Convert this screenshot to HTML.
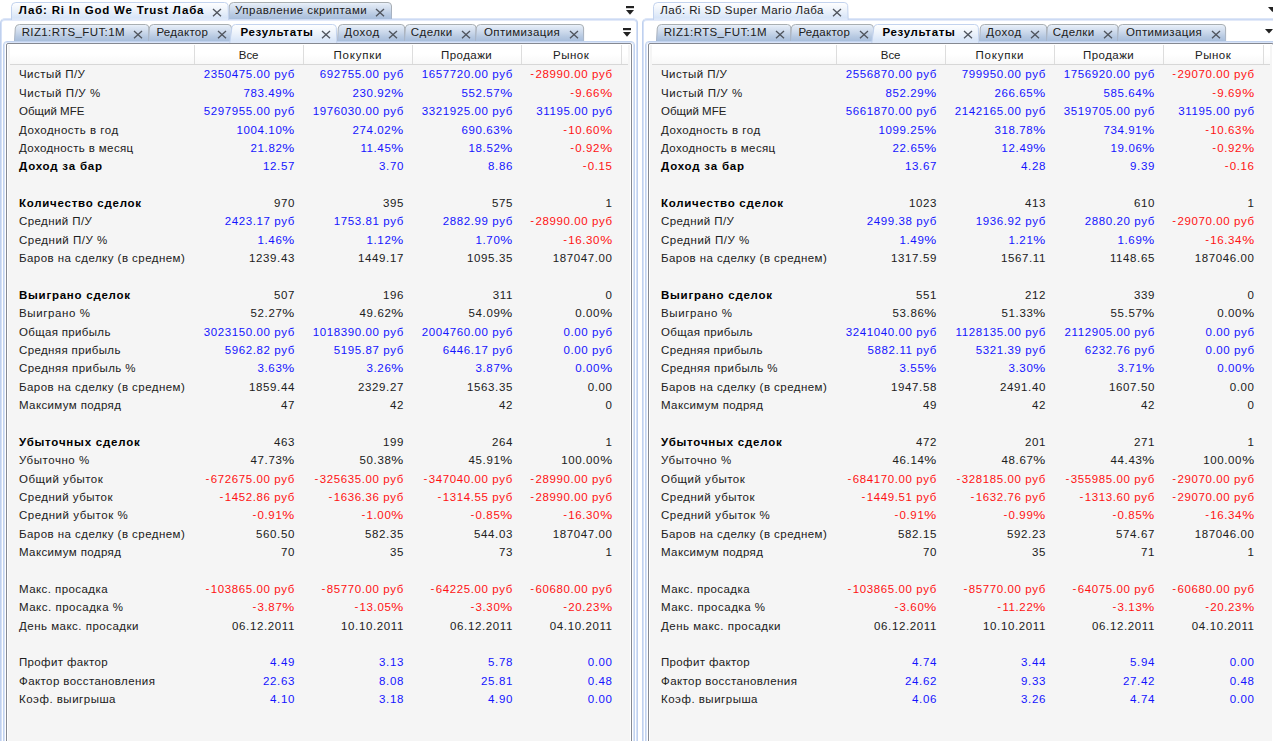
<!DOCTYPE html><html><head><meta charset="utf-8"><title>Lab</title><style>
html,body{margin:0;padding:0}
body{width:1273px;height:741px;overflow:hidden;background:#fff;position:relative;font-family:"Liberation Sans",sans-serif;font-size:11.5px;color:#000}
.panel{position:absolute;top:0;width:638px;height:741px;overflow:visible}
.panel *{position:absolute;box-sizing:border-box}
.oframe{left:0;top:18px;width:638px;height:760px;border:1px solid #bfd0ee;border-top-color:#dde6f7;box-shadow:inset 0 1px 0 0 #ccdaf4,inset 1px 0 0 0 #d5e1f7,inset -1px 0 0 0 #d5e1f7,inset 0 2px 0 0 #e3eaf9;border-radius:5px;background:#fff}
.iframe{left:3px;top:41px;width:632px;height:760px;border:1px solid #c2d3ef;box-shadow:inset 0 0 0 1px #d9e4f8;border-radius:4px;background:#fff}
.dframe{left:6px;top:43px;width:626px;height:760px;border:1px solid #858992;border-radius:2px;background:#fff}
.tab{display:block;overflow:visible}
.tab.act{z-index:2}
.tt,.x{z-index:3}
.tt{white-space:pre;line-height:16px;height:16px}
.bd{font-weight:bold}
.x,.mi{display:block}
.body{left:8px;top:45px;width:622px;height:720px;background:#f5f5f5}
.hdr{left:10px;top:45px;width:618px;height:20px;background:linear-gradient(#ffffff 0%,#ffffff 45%,#f8f8f8 100%);border-bottom:1px solid #d7d7d7}
.hsep{top:45px;width:1px;height:19px;background:#dddddd}
.ht{top:47px;height:16px;line-height:16px;white-space:pre}
.lb{left:19.0px;height:18px;line-height:18px;white-space:pre}
.v{height:18px;line-height:18px;white-space:pre;letter-spacing:0.61px;text-align:right}
.v i{position:static;display:inline-block;font-style:normal;margin-left:1.7px;transform:scaleX(1.17);transform-origin:100% 50%}
.v u{position:relative;top:-1px;text-decoration:none;letter-spacing:1.3px}
.b{color:#1414ff}.r{color:#ff1212}.k{color:#202020}
.lb,.ht,.tt{color:#202020}
.bd{color:#000}
</style></head><body><svg width="0" height="0" style="position:absolute"><defs><linearGradient id="gi" x1="0" y1="0" x2="0" y2="1"><stop offset="0" stop-color="#eef4fc"/><stop offset="0.15" stop-color="#dfe8f4"/><stop offset="0.45" stop-color="#ccd9eb"/><stop offset="0.75" stop-color="#b6c8e1"/><stop offset="1" stop-color="#a9bfdc"/></linearGradient><linearGradient id="ga" x1="0" y1="0" x2="0" y2="1"><stop offset="0" stop-color="#ffffff"/><stop offset="0.45" stop-color="#edf3fb"/><stop offset="0.85" stop-color="#d9e6f8"/><stop offset="1" stop-color="#dfe9fa"/></linearGradient><linearGradient id="gs" x1="0" y1="0" x2="0" y2="1"><stop offset="0" stop-color="#a8aeb1"/><stop offset="0.35" stop-color="#a6adb6"/><stop offset="1" stop-color="#a9b7cc"/></linearGradient></defs></svg><div class="panel" style="left:0px"><div class="oframe"></div><svg class="tab act" style="left:8px;top:2px" width="223" height="18" viewBox="0 0 223 18"><path d="M3.5,18 L3.5,4.5 Q3.7,0.5 7.8,0.5 L216.5,0.5 Q219.7,0.5 220.1,3.5 L220.6,18" fill="url(#ga)" stroke="#c3d3ee" stroke-width="1"/></svg><span class="tt bd" style="left:18.8px;top:1.5px;letter-spacing:0.804px">Лаб: Ri In God We Trust Лаба</span><svg class="x" style="left:212.0px;top:7.65px" width="10" height="10" viewBox="0 0 10 10"><path d="M1 1 L9 8.2 M9 1 L1 8.2" stroke="#50555e" stroke-width="1.35" fill="none"/></svg><svg class="tab" style="left:225px;top:2px" width="169" height="17" viewBox="0 0 169 17"><path d="M3.5,17 L4.3,4 Q4.8,0.5 8.5,0.5 L163,0.5 Q166.4,0.5 166.5,4 L166.5,17" fill="url(#gi)" stroke="url(#gs)" stroke-width="1"/></svg><span class="tt" style="left:235.1px;top:1.5px;letter-spacing:0.462px">Управление скриптами</span><svg class="x" style="left:375.0px;top:7.65px" width="10" height="10" viewBox="0 0 10 10"><path d="M1 1 L9 8.2 M9 1 L1 8.2" stroke="#50555e" stroke-width="1.35" fill="none"/></svg><div class="iframe"></div><div class="dframe"></div><svg class="tab" style="left:11px;top:24px" width="140.4" height="17" viewBox="0 0 140.4 17"><path d="M3.5,17 L4.3,4 Q4.8,0.5 8.5,0.5 L134.4,0.5 Q137.8,0.5 137.9,4 L137.9,17" fill="url(#gi)" stroke="url(#gs)" stroke-width="1"/></svg><span class="tt" style="left:21.7px;top:24px;letter-spacing:0.374px">RIZ1:RTS_FUT:1M</span><svg class="x" style="left:132.9px;top:29.65px" width="10" height="10" viewBox="0 0 10 10"><path d="M1 1 L9 8.2 M9 1 L1 8.2" stroke="#50555e" stroke-width="1.35" fill="none"/></svg><svg class="tab" style="left:145.4px;top:24px" width="89.0" height="17" viewBox="0 0 89.0 17"><path d="M3.5,17 L4.3,4 Q4.8,0.5 8.5,0.5 L83.0,0.5 Q86.4,0.5 86.5,4 L86.5,17" fill="url(#gi)" stroke="url(#gs)" stroke-width="1"/></svg><span class="tt" style="left:156.4px;top:24px;letter-spacing:0.283px">Редактор</span><svg class="x" style="left:216.6px;top:29.65px" width="10" height="10" viewBox="0 0 10 10"><path d="M1 1 L9 8.2 M9 1 L1 8.2" stroke="#50555e" stroke-width="1.35" fill="none"/></svg><svg class="tab act" style="left:228.4px;top:24px" width="111.2" height="19" viewBox="0 0 111.2 19"><path d="M1.8,19 L3.9,3.5 Q4.4,0.5 7.5,0.5 L104.7,0.5 Q107.9,0.5 108.3,3.5 L108.8,19" fill="url(#ga)" stroke="#c3d3ee" stroke-width="1"/></svg><span class="tt bd" style="left:240.4px;top:24px;letter-spacing:0.687px">Результаты</span><svg class="x" style="left:321.4px;top:29.65px" width="10" height="10" viewBox="0 0 10 10"><path d="M1 1 L9 8.2 M9 1 L1 8.2" stroke="#50555e" stroke-width="1.35" fill="none"/></svg><svg class="tab" style="left:333.6px;top:24px" width="73.2" height="17" viewBox="0 0 73.2 17"><path d="M3.5,17 L4.3,4 Q4.8,0.5 8.5,0.5 L67.2,0.5 Q70.60000000000001,0.5 70.7,4 L70.7,17" fill="url(#gi)" stroke="url(#gs)" stroke-width="1"/></svg><span class="tt" style="left:344.2px;top:24px;letter-spacing:0.582px">Доход</span><svg class="x" style="left:388.0px;top:29.65px" width="10" height="10" viewBox="0 0 10 10"><path d="M1 1 L9 8.2 M9 1 L1 8.2" stroke="#50555e" stroke-width="1.35" fill="none"/></svg><svg class="tab" style="left:400.8px;top:24px" width="77.6" height="17" viewBox="0 0 77.6 17"><path d="M3.5,17 L4.3,4 Q4.8,0.5 8.5,0.5 L71.6,0.5 Q75.0,0.5 75.1,4 L75.1,17" fill="url(#gi)" stroke="url(#gs)" stroke-width="1"/></svg><span class="tt" style="left:410.8px;top:24px;letter-spacing:0.459px">Сделки</span><svg class="x" style="left:460.9px;top:29.65px" width="10" height="10" viewBox="0 0 10 10"><path d="M1 1 L9 8.2 M9 1 L1 8.2" stroke="#50555e" stroke-width="1.35" fill="none"/></svg><svg class="tab" style="left:472.4px;top:24px" width="114.1" height="17" viewBox="0 0 114.1 17"><path d="M3.5,17 L4.3,4 Q4.8,0.5 8.5,0.5 L108.1,0.5 Q111.5,0.5 111.6,4 L111.6,17" fill="url(#gi)" stroke="url(#gs)" stroke-width="1"/></svg><span class="tt" style="left:484.0px;top:24px;letter-spacing:0.359px">Оптимизация</span><svg class="x" style="left:568.5px;top:29.65px" width="10" height="10" viewBox="0 0 10 10"><path d="M1 1 L9 8.2 M9 1 L1 8.2" stroke="#50555e" stroke-width="1.35" fill="none"/></svg><svg class="mi" style="left:626px;top:6px" width="8" height="9" viewBox="0 0 8 9"><rect x="0" y="0" width="8" height="2.2" fill="#222"/><path d="M0 4 H8 L4 8.7 Z" fill="#222"/></svg><svg class="mi" style="left:623px;top:28px" width="8" height="9" viewBox="0 0 8 9"><rect x="0" y="0" width="8" height="2.2" fill="#222"/><path d="M0 4 H8 L4 8.7 Z" fill="#222"/></svg><div class="body"></div><div class="hdr"></div><div class="hsep" style="left:194px"></div><div class="hsep" style="left:303px"></div><div class="hsep" style="left:412px"></div><div class="hsep" style="left:521px"></div><div class="hsep" style="left:621px"></div><span class="ht" style="left:238.8px;letter-spacing:-0.064px">Все</span><span class="ht" style="left:333.6px;letter-spacing:0.756px">Покупки</span><span class="ht" style="left:441.0px;letter-spacing:0.445px">Продажи</span><span class="ht" style="left:553.1px;letter-spacing:0.47px">Рынок</span><span class="lb" style="top:65.44px;letter-spacing:0.459px">Чистый П/У</span><span class="v b" style="top:65.44px;right:343.09px">2350475.00 руб</span><span class="v b" style="top:65.44px;right:234.09px">692755.00 руб</span><span class="v b" style="top:65.44px;right:125.09px">1657720.00 руб</span><span class="v r" style="top:65.44px;right:25.39px"><u>-</u>28990.00 руб</span><span class="lb" style="top:83.81px;letter-spacing:0.547px">Чистый П/У %</span><span class="v b" style="top:83.81px;right:343.09px">783.49<i>%</i></span><span class="v b" style="top:83.81px;right:234.09px">230.92<i>%</i></span><span class="v b" style="top:83.81px;right:125.09px">552.57<i>%</i></span><span class="v r" style="top:83.81px;right:25.39px"><u>-</u>9.66<i>%</i></span><span class="lb" style="top:102.19px;letter-spacing:0.011px">Общий MFE</span><span class="v b" style="top:102.19px;right:343.09px">5297955.00 руб</span><span class="v b" style="top:102.19px;right:234.09px">1976030.00 руб</span><span class="v b" style="top:102.19px;right:125.09px">3321925.00 руб</span><span class="v b" style="top:102.19px;right:25.39px">31195.00 руб</span><span class="lb" style="top:120.56px;letter-spacing:0.492px">Доходность в год</span><span class="v b" style="top:120.56px;right:343.09px">1004.10<i>%</i></span><span class="v b" style="top:120.56px;right:234.09px">274.02<i>%</i></span><span class="v b" style="top:120.56px;right:125.09px">690.63<i>%</i></span><span class="v r" style="top:120.56px;right:25.39px"><u>-</u>10.60<i>%</i></span><span class="lb" style="top:138.94px;letter-spacing:0.378px">Доходность в месяц</span><span class="v b" style="top:138.94px;right:343.09px">21.82<i>%</i></span><span class="v b" style="top:138.94px;right:234.09px">11.45<i>%</i></span><span class="v b" style="top:138.94px;right:125.09px">18.52<i>%</i></span><span class="v r" style="top:138.94px;right:25.39px"><u>-</u>0.92<i>%</i></span><span class="lb bd" style="top:157.31px;letter-spacing:0.797px">Доход за бар</span><span class="v b" style="top:157.31px;right:343.09px">12.57</span><span class="v b" style="top:157.31px;right:234.09px">3.70</span><span class="v b" style="top:157.31px;right:125.09px">8.86</span><span class="v r" style="top:157.31px;right:25.39px"><u>-</u>0.15</span><span class="lb bd" style="top:194.06px;letter-spacing:0.741px">Количество сделок</span><span class="v k" style="top:194.06px;right:343.09px">970</span><span class="v k" style="top:194.06px;right:234.09px">395</span><span class="v k" style="top:194.06px;right:125.09px">575</span><span class="v k" style="top:194.06px;right:25.39px">1</span><span class="lb" style="top:212.44px;letter-spacing:0.408px">Средний П/У</span><span class="v b" style="top:212.44px;right:343.09px">2423.17 руб</span><span class="v b" style="top:212.44px;right:234.09px">1753.81 руб</span><span class="v b" style="top:212.44px;right:125.09px">2882.99 руб</span><span class="v r" style="top:212.44px;right:25.39px"><u>-</u>28990.00 руб</span><span class="lb" style="top:230.81px;letter-spacing:0.505px">Средний П/У %</span><span class="v b" style="top:230.81px;right:343.09px">1.46<i>%</i></span><span class="v b" style="top:230.81px;right:234.09px">1.12<i>%</i></span><span class="v b" style="top:230.81px;right:125.09px">1.70<i>%</i></span><span class="v r" style="top:230.81px;right:25.39px"><u>-</u>16.30<i>%</i></span><span class="lb" style="top:249.19px;letter-spacing:0.458px">Баров на сделку (в среднем)</span><span class="v k" style="top:249.19px;right:343.09px">1239.43</span><span class="v k" style="top:249.19px;right:234.09px">1449.17</span><span class="v k" style="top:249.19px;right:125.09px">1095.35</span><span class="v k" style="top:249.19px;right:25.39px">187047.00</span><span class="lb bd" style="top:285.94px;letter-spacing:0.742px">Выиграно сделок</span><span class="v k" style="top:285.94px;right:343.09px">507</span><span class="v k" style="top:285.94px;right:234.09px">196</span><span class="v k" style="top:285.94px;right:125.09px">311</span><span class="v k" style="top:285.94px;right:25.39px">0</span><span class="lb" style="top:304.31px;letter-spacing:0.609px">Выиграно %</span><span class="v k" style="top:304.31px;right:343.09px">52.27<i>%</i></span><span class="v k" style="top:304.31px;right:234.09px">49.62<i>%</i></span><span class="v k" style="top:304.31px;right:125.09px">54.09<i>%</i></span><span class="v k" style="top:304.31px;right:25.39px">0.00<i>%</i></span><span class="lb" style="top:322.69px;letter-spacing:0.332px">Общая прибыль</span><span class="v b" style="top:322.69px;right:343.09px">3023150.00 руб</span><span class="v b" style="top:322.69px;right:234.09px">1018390.00 руб</span><span class="v b" style="top:322.69px;right:125.09px">2004760.00 руб</span><span class="v b" style="top:322.69px;right:25.39px">0.00 руб</span><span class="lb" style="top:341.06px;letter-spacing:0.375px">Средняя прибыль</span><span class="v b" style="top:341.06px;right:343.09px">5962.82 руб</span><span class="v b" style="top:341.06px;right:234.09px">5195.87 руб</span><span class="v b" style="top:341.06px;right:125.09px">6446.17 руб</span><span class="v b" style="top:341.06px;right:25.39px">0.00 руб</span><span class="lb" style="top:359.44px;letter-spacing:0.439px">Средняя прибыль %</span><span class="v b" style="top:359.44px;right:343.09px">3.63<i>%</i></span><span class="v b" style="top:359.44px;right:234.09px">3.26<i>%</i></span><span class="v b" style="top:359.44px;right:125.09px">3.87<i>%</i></span><span class="v b" style="top:359.44px;right:25.39px">0.00<i>%</i></span><span class="lb" style="top:377.81px;letter-spacing:0.458px">Баров на сделку (в среднем)</span><span class="v k" style="top:377.81px;right:343.09px">1859.44</span><span class="v k" style="top:377.81px;right:234.09px">2329.27</span><span class="v k" style="top:377.81px;right:125.09px">1563.35</span><span class="v k" style="top:377.81px;right:25.39px">0.00</span><span class="lb" style="top:396.19px;letter-spacing:0.387px">Максимум подряд</span><span class="v k" style="top:396.19px;right:343.09px">47</span><span class="v k" style="top:396.19px;right:234.09px">42</span><span class="v k" style="top:396.19px;right:125.09px">42</span><span class="v k" style="top:396.19px;right:25.39px">0</span><span class="lb bd" style="top:432.94px;letter-spacing:0.775px">Убыточных сделок</span><span class="v k" style="top:432.94px;right:343.09px">463</span><span class="v k" style="top:432.94px;right:234.09px">199</span><span class="v k" style="top:432.94px;right:125.09px">264</span><span class="v k" style="top:432.94px;right:25.39px">1</span><span class="lb" style="top:451.31px;letter-spacing:0.549px">Убыточно %</span><span class="v k" style="top:451.31px;right:343.09px">47.73<i>%</i></span><span class="v k" style="top:451.31px;right:234.09px">50.38<i>%</i></span><span class="v k" style="top:451.31px;right:125.09px">45.91<i>%</i></span><span class="v k" style="top:451.31px;right:25.39px">100.00<i>%</i></span><span class="lb" style="top:469.69px;letter-spacing:0.496px">Общий убыток</span><span class="v r" style="top:469.69px;right:343.09px"><u>-</u>672675.00 руб</span><span class="v r" style="top:469.69px;right:234.09px"><u>-</u>325635.00 руб</span><span class="v r" style="top:469.69px;right:125.09px"><u>-</u>347040.00 руб</span><span class="v r" style="top:469.69px;right:25.39px"><u>-</u>28990.00 руб</span><span class="lb" style="top:488.06px;letter-spacing:0.481px">Средний убыток</span><span class="v r" style="top:488.06px;right:343.09px"><u>-</u>1452.86 руб</span><span class="v r" style="top:488.06px;right:234.09px"><u>-</u>1636.36 руб</span><span class="v r" style="top:488.06px;right:125.09px"><u>-</u>1314.55 руб</span><span class="v r" style="top:488.06px;right:25.39px"><u>-</u>28990.00 руб</span><span class="lb" style="top:506.44px;letter-spacing:0.535px">Средний убыток %</span><span class="v r" style="top:506.44px;right:343.09px"><u>-</u>0.91<i>%</i></span><span class="v r" style="top:506.44px;right:234.09px"><u>-</u>1.00<i>%</i></span><span class="v r" style="top:506.44px;right:125.09px"><u>-</u>0.85<i>%</i></span><span class="v r" style="top:506.44px;right:25.39px"><u>-</u>16.30<i>%</i></span><span class="lb" style="top:524.82px;letter-spacing:0.458px">Баров на сделку (в среднем)</span><span class="v k" style="top:524.82px;right:343.09px">560.50</span><span class="v k" style="top:524.82px;right:234.09px">582.35</span><span class="v k" style="top:524.82px;right:125.09px">544.03</span><span class="v k" style="top:524.82px;right:25.39px">187047.00</span><span class="lb" style="top:543.19px;letter-spacing:0.387px">Максимум подряд</span><span class="v k" style="top:543.19px;right:343.09px">70</span><span class="v k" style="top:543.19px;right:234.09px">35</span><span class="v k" style="top:543.19px;right:125.09px">73</span><span class="v k" style="top:543.19px;right:25.39px">1</span><span class="lb" style="top:579.94px;letter-spacing:0.433px">Макс. просадка</span><span class="v r" style="top:579.94px;right:343.09px"><u>-</u>103865.00 руб</span><span class="v r" style="top:579.94px;right:234.09px"><u>-</u>85770.00 руб</span><span class="v r" style="top:579.94px;right:125.09px"><u>-</u>64225.00 руб</span><span class="v r" style="top:579.94px;right:25.39px"><u>-</u>60680.00 руб</span><span class="lb" style="top:598.32px;letter-spacing:0.507px">Макс. просадка %</span><span class="v r" style="top:598.32px;right:343.09px"><u>-</u>3.87<i>%</i></span><span class="v r" style="top:598.32px;right:234.09px"><u>-</u>13.05<i>%</i></span><span class="v r" style="top:598.32px;right:125.09px"><u>-</u>3.30<i>%</i></span><span class="v r" style="top:598.32px;right:25.39px"><u>-</u>20.23<i>%</i></span><span class="lb" style="top:616.69px;letter-spacing:0.486px">День макс. просадки</span><span class="v k" style="top:616.69px;right:343.09px">06.12.2011</span><span class="v k" style="top:616.69px;right:234.09px">10.10.2011</span><span class="v k" style="top:616.69px;right:125.09px">06.12.2011</span><span class="v k" style="top:616.69px;right:25.39px">04.10.2011</span><span class="lb" style="top:653.44px;letter-spacing:0.353px">Профит фактор</span><span class="v b" style="top:653.44px;right:343.09px">4.49</span><span class="v b" style="top:653.44px;right:234.09px">3.13</span><span class="v b" style="top:653.44px;right:125.09px">5.78</span><span class="v b" style="top:653.44px;right:25.39px">0.00</span><span class="lb" style="top:671.82px;letter-spacing:0.418px">Фактор восстановления</span><span class="v b" style="top:671.82px;right:343.09px">22.63</span><span class="v b" style="top:671.82px;right:234.09px">8.08</span><span class="v b" style="top:671.82px;right:125.09px">25.81</span><span class="v b" style="top:671.82px;right:25.39px">0.48</span><span class="lb" style="top:690.19px;letter-spacing:0.493px">Коэф. выигрыша</span><span class="v b" style="top:690.19px;right:343.09px">4.10</span><span class="v b" style="top:690.19px;right:234.09px">3.18</span><span class="v b" style="top:690.19px;right:125.09px">4.90</span><span class="v b" style="top:690.19px;right:25.39px">0.00</span></div><div class="panel" style="left:642px"><div class="oframe"></div><svg class="tab act" style="left:8px;top:2px" width="200.6" height="18" viewBox="0 0 200.6 18"><path d="M3.5,18 L3.5,4.5 Q3.7,0.5 7.8,0.5 L194.1,0.5 Q197.29999999999998,0.5 197.7,3.5 L198.2,18" fill="url(#ga)" stroke="#c3d3ee" stroke-width="1"/></svg><span class="tt" style="left:18.2px;top:1.5px;letter-spacing:0.41px">Лаб: Ri SD Super Mario Лаба</span><svg class="x" style="left:189.8px;top:7.65px" width="10" height="10" viewBox="0 0 10 10"><path d="M1 1 L9 8.2 M9 1 L1 8.2" stroke="#50555e" stroke-width="1.35" fill="none"/></svg><div class="iframe"></div><div class="dframe"></div><svg class="tab" style="left:11px;top:24px" width="140.4" height="17" viewBox="0 0 140.4 17"><path d="M3.5,17 L4.3,4 Q4.8,0.5 8.5,0.5 L134.4,0.5 Q137.8,0.5 137.9,4 L137.9,17" fill="url(#gi)" stroke="url(#gs)" stroke-width="1"/></svg><span class="tt" style="left:21.7px;top:24px;letter-spacing:0.374px">RIZ1:RTS_FUT:1M</span><svg class="x" style="left:132.9px;top:29.65px" width="10" height="10" viewBox="0 0 10 10"><path d="M1 1 L9 8.2 M9 1 L1 8.2" stroke="#50555e" stroke-width="1.35" fill="none"/></svg><svg class="tab" style="left:145.4px;top:24px" width="89.0" height="17" viewBox="0 0 89.0 17"><path d="M3.5,17 L4.3,4 Q4.8,0.5 8.5,0.5 L83.0,0.5 Q86.4,0.5 86.5,4 L86.5,17" fill="url(#gi)" stroke="url(#gs)" stroke-width="1"/></svg><span class="tt" style="left:156.4px;top:24px;letter-spacing:0.283px">Редактор</span><svg class="x" style="left:216.6px;top:29.65px" width="10" height="10" viewBox="0 0 10 10"><path d="M1 1 L9 8.2 M9 1 L1 8.2" stroke="#50555e" stroke-width="1.35" fill="none"/></svg><svg class="tab act" style="left:228.4px;top:24px" width="111.2" height="19" viewBox="0 0 111.2 19"><path d="M1.8,19 L3.9,3.5 Q4.4,0.5 7.5,0.5 L104.7,0.5 Q107.9,0.5 108.3,3.5 L108.8,19" fill="url(#ga)" stroke="#c3d3ee" stroke-width="1"/></svg><span class="tt bd" style="left:240.4px;top:24px;letter-spacing:0.687px">Результаты</span><svg class="x" style="left:321.4px;top:29.65px" width="10" height="10" viewBox="0 0 10 10"><path d="M1 1 L9 8.2 M9 1 L1 8.2" stroke="#50555e" stroke-width="1.35" fill="none"/></svg><svg class="tab" style="left:333.6px;top:24px" width="73.2" height="17" viewBox="0 0 73.2 17"><path d="M3.5,17 L4.3,4 Q4.8,0.5 8.5,0.5 L67.2,0.5 Q70.60000000000001,0.5 70.7,4 L70.7,17" fill="url(#gi)" stroke="url(#gs)" stroke-width="1"/></svg><span class="tt" style="left:344.2px;top:24px;letter-spacing:0.582px">Доход</span><svg class="x" style="left:388.0px;top:29.65px" width="10" height="10" viewBox="0 0 10 10"><path d="M1 1 L9 8.2 M9 1 L1 8.2" stroke="#50555e" stroke-width="1.35" fill="none"/></svg><svg class="tab" style="left:400.8px;top:24px" width="77.6" height="17" viewBox="0 0 77.6 17"><path d="M3.5,17 L4.3,4 Q4.8,0.5 8.5,0.5 L71.6,0.5 Q75.0,0.5 75.1,4 L75.1,17" fill="url(#gi)" stroke="url(#gs)" stroke-width="1"/></svg><span class="tt" style="left:410.8px;top:24px;letter-spacing:0.459px">Сделки</span><svg class="x" style="left:460.9px;top:29.65px" width="10" height="10" viewBox="0 0 10 10"><path d="M1 1 L9 8.2 M9 1 L1 8.2" stroke="#50555e" stroke-width="1.35" fill="none"/></svg><svg class="tab" style="left:472.4px;top:24px" width="114.1" height="17" viewBox="0 0 114.1 17"><path d="M3.5,17 L4.3,4 Q4.8,0.5 8.5,0.5 L108.1,0.5 Q111.5,0.5 111.6,4 L111.6,17" fill="url(#gi)" stroke="url(#gs)" stroke-width="1"/></svg><span class="tt" style="left:484.0px;top:24px;letter-spacing:0.359px">Оптимизация</span><svg class="x" style="left:568.5px;top:29.65px" width="10" height="10" viewBox="0 0 10 10"><path d="M1 1 L9 8.2 M9 1 L1 8.2" stroke="#50555e" stroke-width="1.35" fill="none"/></svg><svg class="mi" style="left:626px;top:7px" width="9" height="5" viewBox="0 0 9 5"><path d="M0 0 H9 L4.5 5 Z" fill="#222"/></svg><svg class="mi" style="left:623px;top:29px" width="8" height="5" viewBox="0 0 8 5"><path d="M0 0 H8 L4 4.6 Z" fill="#222"/></svg><div class="body"></div><div class="hdr"></div><div class="hsep" style="left:194px"></div><div class="hsep" style="left:303px"></div><div class="hsep" style="left:412px"></div><div class="hsep" style="left:521px"></div><div class="hsep" style="left:621px"></div><span class="ht" style="left:238.8px;letter-spacing:-0.064px">Все</span><span class="ht" style="left:333.6px;letter-spacing:0.756px">Покупки</span><span class="ht" style="left:441.0px;letter-spacing:0.445px">Продажи</span><span class="ht" style="left:553.1px;letter-spacing:0.47px">Рынок</span><span class="lb" style="top:65.44px;letter-spacing:0.459px">Чистый П/У</span><span class="v b" style="top:65.44px;right:343.09px">2556870.00 руб</span><span class="v b" style="top:65.44px;right:234.09px">799950.00 руб</span><span class="v b" style="top:65.44px;right:125.09px">1756920.00 руб</span><span class="v r" style="top:65.44px;right:25.39px"><u>-</u>29070.00 руб</span><span class="lb" style="top:83.81px;letter-spacing:0.547px">Чистый П/У %</span><span class="v b" style="top:83.81px;right:343.09px">852.29<i>%</i></span><span class="v b" style="top:83.81px;right:234.09px">266.65<i>%</i></span><span class="v b" style="top:83.81px;right:125.09px">585.64<i>%</i></span><span class="v r" style="top:83.81px;right:25.39px"><u>-</u>9.69<i>%</i></span><span class="lb" style="top:102.19px;letter-spacing:0.011px">Общий MFE</span><span class="v b" style="top:102.19px;right:343.09px">5661870.00 руб</span><span class="v b" style="top:102.19px;right:234.09px">2142165.00 руб</span><span class="v b" style="top:102.19px;right:125.09px">3519705.00 руб</span><span class="v b" style="top:102.19px;right:25.39px">31195.00 руб</span><span class="lb" style="top:120.56px;letter-spacing:0.492px">Доходность в год</span><span class="v b" style="top:120.56px;right:343.09px">1099.25<i>%</i></span><span class="v b" style="top:120.56px;right:234.09px">318.78<i>%</i></span><span class="v b" style="top:120.56px;right:125.09px">734.91<i>%</i></span><span class="v r" style="top:120.56px;right:25.39px"><u>-</u>10.63<i>%</i></span><span class="lb" style="top:138.94px;letter-spacing:0.378px">Доходность в месяц</span><span class="v b" style="top:138.94px;right:343.09px">22.65<i>%</i></span><span class="v b" style="top:138.94px;right:234.09px">12.49<i>%</i></span><span class="v b" style="top:138.94px;right:125.09px">19.06<i>%</i></span><span class="v r" style="top:138.94px;right:25.39px"><u>-</u>0.92<i>%</i></span><span class="lb bd" style="top:157.31px;letter-spacing:0.797px">Доход за бар</span><span class="v b" style="top:157.31px;right:343.09px">13.67</span><span class="v b" style="top:157.31px;right:234.09px">4.28</span><span class="v b" style="top:157.31px;right:125.09px">9.39</span><span class="v r" style="top:157.31px;right:25.39px"><u>-</u>0.16</span><span class="lb bd" style="top:194.06px;letter-spacing:0.741px">Количество сделок</span><span class="v k" style="top:194.06px;right:343.09px">1023</span><span class="v k" style="top:194.06px;right:234.09px">413</span><span class="v k" style="top:194.06px;right:125.09px">610</span><span class="v k" style="top:194.06px;right:25.39px">1</span><span class="lb" style="top:212.44px;letter-spacing:0.408px">Средний П/У</span><span class="v b" style="top:212.44px;right:343.09px">2499.38 руб</span><span class="v b" style="top:212.44px;right:234.09px">1936.92 руб</span><span class="v b" style="top:212.44px;right:125.09px">2880.20 руб</span><span class="v r" style="top:212.44px;right:25.39px"><u>-</u>29070.00 руб</span><span class="lb" style="top:230.81px;letter-spacing:0.505px">Средний П/У %</span><span class="v b" style="top:230.81px;right:343.09px">1.49<i>%</i></span><span class="v b" style="top:230.81px;right:234.09px">1.21<i>%</i></span><span class="v b" style="top:230.81px;right:125.09px">1.69<i>%</i></span><span class="v r" style="top:230.81px;right:25.39px"><u>-</u>16.34<i>%</i></span><span class="lb" style="top:249.19px;letter-spacing:0.458px">Баров на сделку (в среднем)</span><span class="v k" style="top:249.19px;right:343.09px">1317.59</span><span class="v k" style="top:249.19px;right:234.09px">1567.11</span><span class="v k" style="top:249.19px;right:125.09px">1148.65</span><span class="v k" style="top:249.19px;right:25.39px">187046.00</span><span class="lb bd" style="top:285.94px;letter-spacing:0.742px">Выиграно сделок</span><span class="v k" style="top:285.94px;right:343.09px">551</span><span class="v k" style="top:285.94px;right:234.09px">212</span><span class="v k" style="top:285.94px;right:125.09px">339</span><span class="v k" style="top:285.94px;right:25.39px">0</span><span class="lb" style="top:304.31px;letter-spacing:0.609px">Выиграно %</span><span class="v k" style="top:304.31px;right:343.09px">53.86<i>%</i></span><span class="v k" style="top:304.31px;right:234.09px">51.33<i>%</i></span><span class="v k" style="top:304.31px;right:125.09px">55.57<i>%</i></span><span class="v k" style="top:304.31px;right:25.39px">0.00<i>%</i></span><span class="lb" style="top:322.69px;letter-spacing:0.332px">Общая прибыль</span><span class="v b" style="top:322.69px;right:343.09px">3241040.00 руб</span><span class="v b" style="top:322.69px;right:234.09px">1128135.00 руб</span><span class="v b" style="top:322.69px;right:125.09px">2112905.00 руб</span><span class="v b" style="top:322.69px;right:25.39px">0.00 руб</span><span class="lb" style="top:341.06px;letter-spacing:0.375px">Средняя прибыль</span><span class="v b" style="top:341.06px;right:343.09px">5882.11 руб</span><span class="v b" style="top:341.06px;right:234.09px">5321.39 руб</span><span class="v b" style="top:341.06px;right:125.09px">6232.76 руб</span><span class="v b" style="top:341.06px;right:25.39px">0.00 руб</span><span class="lb" style="top:359.44px;letter-spacing:0.439px">Средняя прибыль %</span><span class="v b" style="top:359.44px;right:343.09px">3.55<i>%</i></span><span class="v b" style="top:359.44px;right:234.09px">3.30<i>%</i></span><span class="v b" style="top:359.44px;right:125.09px">3.71<i>%</i></span><span class="v b" style="top:359.44px;right:25.39px">0.00<i>%</i></span><span class="lb" style="top:377.81px;letter-spacing:0.458px">Баров на сделку (в среднем)</span><span class="v k" style="top:377.81px;right:343.09px">1947.58</span><span class="v k" style="top:377.81px;right:234.09px">2491.40</span><span class="v k" style="top:377.81px;right:125.09px">1607.50</span><span class="v k" style="top:377.81px;right:25.39px">0.00</span><span class="lb" style="top:396.19px;letter-spacing:0.387px">Максимум подряд</span><span class="v k" style="top:396.19px;right:343.09px">49</span><span class="v k" style="top:396.19px;right:234.09px">42</span><span class="v k" style="top:396.19px;right:125.09px">42</span><span class="v k" style="top:396.19px;right:25.39px">0</span><span class="lb bd" style="top:432.94px;letter-spacing:0.775px">Убыточных сделок</span><span class="v k" style="top:432.94px;right:343.09px">472</span><span class="v k" style="top:432.94px;right:234.09px">201</span><span class="v k" style="top:432.94px;right:125.09px">271</span><span class="v k" style="top:432.94px;right:25.39px">1</span><span class="lb" style="top:451.31px;letter-spacing:0.549px">Убыточно %</span><span class="v k" style="top:451.31px;right:343.09px">46.14<i>%</i></span><span class="v k" style="top:451.31px;right:234.09px">48.67<i>%</i></span><span class="v k" style="top:451.31px;right:125.09px">44.43<i>%</i></span><span class="v k" style="top:451.31px;right:25.39px">100.00<i>%</i></span><span class="lb" style="top:469.69px;letter-spacing:0.496px">Общий убыток</span><span class="v r" style="top:469.69px;right:343.09px"><u>-</u>684170.00 руб</span><span class="v r" style="top:469.69px;right:234.09px"><u>-</u>328185.00 руб</span><span class="v r" style="top:469.69px;right:125.09px"><u>-</u>355985.00 руб</span><span class="v r" style="top:469.69px;right:25.39px"><u>-</u>29070.00 руб</span><span class="lb" style="top:488.06px;letter-spacing:0.481px">Средний убыток</span><span class="v r" style="top:488.06px;right:343.09px"><u>-</u>1449.51 руб</span><span class="v r" style="top:488.06px;right:234.09px"><u>-</u>1632.76 руб</span><span class="v r" style="top:488.06px;right:125.09px"><u>-</u>1313.60 руб</span><span class="v r" style="top:488.06px;right:25.39px"><u>-</u>29070.00 руб</span><span class="lb" style="top:506.44px;letter-spacing:0.535px">Средний убыток %</span><span class="v r" style="top:506.44px;right:343.09px"><u>-</u>0.91<i>%</i></span><span class="v r" style="top:506.44px;right:234.09px"><u>-</u>0.99<i>%</i></span><span class="v r" style="top:506.44px;right:125.09px"><u>-</u>0.85<i>%</i></span><span class="v r" style="top:506.44px;right:25.39px"><u>-</u>16.34<i>%</i></span><span class="lb" style="top:524.82px;letter-spacing:0.458px">Баров на сделку (в среднем)</span><span class="v k" style="top:524.82px;right:343.09px">582.15</span><span class="v k" style="top:524.82px;right:234.09px">592.23</span><span class="v k" style="top:524.82px;right:125.09px">574.67</span><span class="v k" style="top:524.82px;right:25.39px">187046.00</span><span class="lb" style="top:543.19px;letter-spacing:0.387px">Максимум подряд</span><span class="v k" style="top:543.19px;right:343.09px">70</span><span class="v k" style="top:543.19px;right:234.09px">35</span><span class="v k" style="top:543.19px;right:125.09px">71</span><span class="v k" style="top:543.19px;right:25.39px">1</span><span class="lb" style="top:579.94px;letter-spacing:0.433px">Макс. просадка</span><span class="v r" style="top:579.94px;right:343.09px"><u>-</u>103865.00 руб</span><span class="v r" style="top:579.94px;right:234.09px"><u>-</u>85770.00 руб</span><span class="v r" style="top:579.94px;right:125.09px"><u>-</u>64075.00 руб</span><span class="v r" style="top:579.94px;right:25.39px"><u>-</u>60680.00 руб</span><span class="lb" style="top:598.32px;letter-spacing:0.507px">Макс. просадка %</span><span class="v r" style="top:598.32px;right:343.09px"><u>-</u>3.60<i>%</i></span><span class="v r" style="top:598.32px;right:234.09px"><u>-</u>11.22<i>%</i></span><span class="v r" style="top:598.32px;right:125.09px"><u>-</u>3.13<i>%</i></span><span class="v r" style="top:598.32px;right:25.39px"><u>-</u>20.23<i>%</i></span><span class="lb" style="top:616.69px;letter-spacing:0.486px">День макс. просадки</span><span class="v k" style="top:616.69px;right:343.09px">06.12.2011</span><span class="v k" style="top:616.69px;right:234.09px">10.10.2011</span><span class="v k" style="top:616.69px;right:125.09px">06.12.2011</span><span class="v k" style="top:616.69px;right:25.39px">04.10.2011</span><span class="lb" style="top:653.44px;letter-spacing:0.353px">Профит фактор</span><span class="v b" style="top:653.44px;right:343.09px">4.74</span><span class="v b" style="top:653.44px;right:234.09px">3.44</span><span class="v b" style="top:653.44px;right:125.09px">5.94</span><span class="v b" style="top:653.44px;right:25.39px">0.00</span><span class="lb" style="top:671.82px;letter-spacing:0.418px">Фактор восстановления</span><span class="v b" style="top:671.82px;right:343.09px">24.62</span><span class="v b" style="top:671.82px;right:234.09px">9.33</span><span class="v b" style="top:671.82px;right:125.09px">27.42</span><span class="v b" style="top:671.82px;right:25.39px">0.48</span><span class="lb" style="top:690.19px;letter-spacing:0.493px">Коэф. выигрыша</span><span class="v b" style="top:690.19px;right:343.09px">4.06</span><span class="v b" style="top:690.19px;right:234.09px">3.26</span><span class="v b" style="top:690.19px;right:125.09px">4.74</span><span class="v b" style="top:690.19px;right:25.39px">0.00</span></div></body></html>
